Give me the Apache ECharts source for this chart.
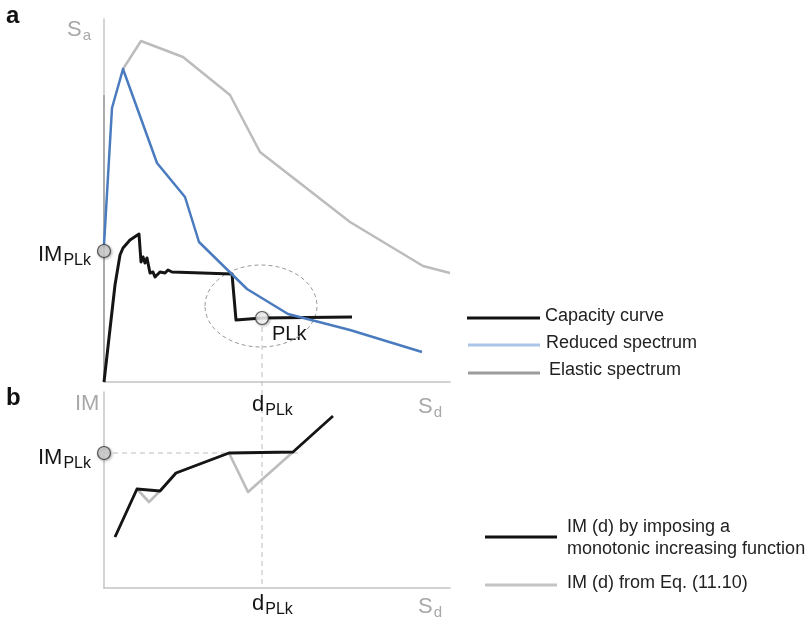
<!DOCTYPE html>
<html>
<head>
<meta charset="utf-8" />
<title>Capacity curve / IM(d)</title>
<script src="https://cdn.jsdelivr.net/npm/echarts@6/dist/echarts.min.js"></script>
<style>
  html, body { margin: 0; height: 100%; background: #fff; }
  #main { width: 808px; height: 624px; }
</style>
</head>
<body>
<div id="main"></div>
<script>
// panel a: spectral displacement Sd vs spectral acceleration Sa (units)
var capacityCurve = [[0,0],[11,97],[16,127],[19,134],[26,142],[35,148],[37,120],[39,125],[41,119],[43,124],[46,109],[49,110],[51,105],[56,110],[61,109],[64,112],[68,110],[128,108],[132,62],[134,64],[158,64],[248,65]];
var reducedSpectrum = [[0,137],[8,274],[19,313],[53,219],[81,185],[95,140],[143,93],[184,68],[246,52],[318,30]];
var elasticOnAxis = [[0,0],[0,287]];
var elasticSpectrum = [[19,313],[37,341],[79,325],[126,287],[156,230],[246,160],[319,116],[346,109]];
var pointPLk = [158, 64];
var imPLkA = 131;

// panel b: IM as a function of displacement
var imMonotonic = [[11,51],[33,99],[56,97],[72,115],[125,135],[189,136],[229,172]];
var imFromEq = [[11,51],[33,99],[45,86],[56,97],[72,115],[125,135],[144,96],[189,136]];
var imPLkB = 135;
var dPLk = 158;

var FONT = 'Liberation Sans, Arial, sans-serif';
var axisGrey = '#c4c4c4';

function plainAxis(idx, max) {
  return {
    type: 'value', gridIndex: idx, min: 0, max: max,
    axisLine: { show: true, onZero: false, lineStyle: { color: axisGrey, width: 1.5 } },
    axisTick: { show: false }, axisLabel: { show: false }, splitLine: { show: false }
  };
}

function dot(name, idx, pt, fill) {
  return {
    name: name, type: 'scatter', xAxisIndex: idx, yAxisIndex: idx, data: [pt],
    symbolSize: 13, clip: false, z: 10, silent: true,
    itemStyle: { color: fill, borderColor: '#333', borderWidth: 1.2,
      shadowBlur: 3, shadowColor: 'rgba(0,0,0,0.35)', shadowOffsetX: 1, shadowOffsetY: 1 }
  };
}

function line(name, idx, data, color, z, w) {
  return {
    name: name, type: 'line', xAxisIndex: idx, yAxisIndex: idx, data: data,
    symbol: 'none', z: z, silent: true, animation: false,
    lineStyle: { color: color, width: w || 2.5, join: 'round' }
  };
}

var chart = echarts.init(document.getElementById('main'));

chart.setOption({
  animation: false,
  grid: [
    { left: 104, top: 19, width: 346, height: 363 },
    { left: 104, top: 392, width: 346, height: 196 }
  ],
  xAxis: [plainAxis(0, 346), plainAxis(1, 346)],
  yAxis: [plainAxis(0, 363), plainAxis(1, 196)],
  series: [
    line('Elastic spectrum', 0, elasticOnAxis, '#acacac', 2, 2),
    line('Elastic spectrum', 0, elasticSpectrum, '#bcbcbc', 2),
    line('Capacity curve', 0, capacityCurve, '#151515', 3, 3),
    line('Reduced spectrum', 0, reducedSpectrum, '#4a7bbf', 4),
    dot('IMPLk', 0, [0, imPLkA], '#d2d2d2'),
    dot('PLk', 0, pointPLk, '#ffffff'),
    line('IM (d) from Eq. (11.10)', 1, imFromEq, '#bdbdbd', 2, 2.7),
    line('IM (d) by imposing a monotonic increasing function', 1, imMonotonic, '#151515', 3, 2.8),
    dot('IMPLk b', 1, [0, imPLkB], '#d2d2d2')
  ]
});

// annotation overlay, placed from the axes' own pixel mapping
function px(idx, pt) { return chart.convertToPixel({ gridIndex: idx }, pt); }

var pPLk = px(0, pointPLk);
var bBot = px(1, [dPLk, 0]);
var bIm = px(1, [0, imPLkB]);
var bImEnd = px(1, [196, imPLkB]);
var ellC = px(0, [157, 76]);

function sub(x, y, main, low, color, size, subSize) {
  return {
    type: 'text', x: x, y: y, z: 20, silent: true,
    style: {
      text: '{m|' + main + '}{s|' + low + '}',
      rich: {
        m: { fontSize: size, fontFamily: FONT, fill: color },
        s: { fontSize: subSize, fontFamily: FONT, fill: color, padding: [Math.round(size * 0.55), 0, 0, 1] }
      }
    }
  };
}

function legendRow(x1, x2, y, color, tx, ty, text) {
  return [
    { type: 'line', silent: true, shape: { x1: x1, y1: y, x2: x2, y2: y }, style: { stroke: color, lineWidth: 3 } },
    { type: 'text', x: tx, y: ty, silent: true,
      style: { text: text, fontSize: 18, fontFamily: FONT, fill: '#222', lineHeight: 22 } }
  ];
}

var dash = { stroke: '#bdbdbd', lineWidth: 1, lineDash: [5, 4] };

var g = [
  // panel letters
  { type: 'text', x: 6, y: 4, style: { text: 'a', fontSize: 24, fontWeight: 'bold', fontFamily: FONT, fill: '#111' } },
  { type: 'text', x: 6, y: 386, style: { text: 'b', fontSize: 24, fontWeight: 'bold', fontFamily: FONT, fill: '#111' } },
  // axis names
  sub(67, 16, 'S', 'a', '#a8a8a8', 22, 15),
  { type: 'text', x: 75, y: 393, style: { text: 'IM', fontSize: 22, fontFamily: FONT, fill: '#a8a8a8' } },
  sub(418, 393, 'S', 'd', '#a8a8a8', 22, 15),
  sub(418, 593, 'S', 'd', '#a8a8a8', 22, 15),
  // point labels
  sub(38, 241, 'IM', 'PLk', '#151515', 22, 16),
  sub(38, 444, 'IM', 'PLk', '#151515', 22, 16),
  sub(252, 391, 'd', 'PLk', '#151515', 22, 16),
  sub(252, 590, 'd', 'PLk', '#151515', 22, 16),
  { type: 'text', x: 272, y: 324, style: { text: 'PLk', fontSize: 20, fontFamily: FONT, fill: '#151515' } },
  // dashed guides
  { type: 'line', z: 1, shape: { x1: pPLk[0], y1: pPLk[1], x2: bBot[0], y2: bBot[1] }, style: dash },
  { type: 'line', z: 1, shape: { x1: bIm[0], y1: bIm[1], x2: bImEnd[0], y2: bImEnd[1] }, style: dash },
  { type: 'ellipse', z: 1, shape: { cx: ellC[0], cy: ellC[1], rx: 56, ry: 41 },
    style: { fill: 'none', stroke: '#999', lineWidth: 1, lineDash: [4, 3] } }
];

g = g.concat(
  legendRow(467, 540, 318, '#111111', 545, 305, 'Capacity curve'),
  legendRow(468, 540, 345, '#a9c5e8', 546, 332, 'Reduced spectrum'),
  legendRow(468, 540, 373, '#9c9c9c', 549, 359, 'Elastic spectrum'),
  legendRow(485, 557, 537, '#111111', 567, 516, 'IM (d) by imposing a\nmonotonic increasing function'),
  legendRow(485, 557, 585, '#c4c4c4', 567, 572, 'IM (d) from Eq. (11.10)')
);

chart.setOption({ graphic: g });
</script>
</body>
</html>
